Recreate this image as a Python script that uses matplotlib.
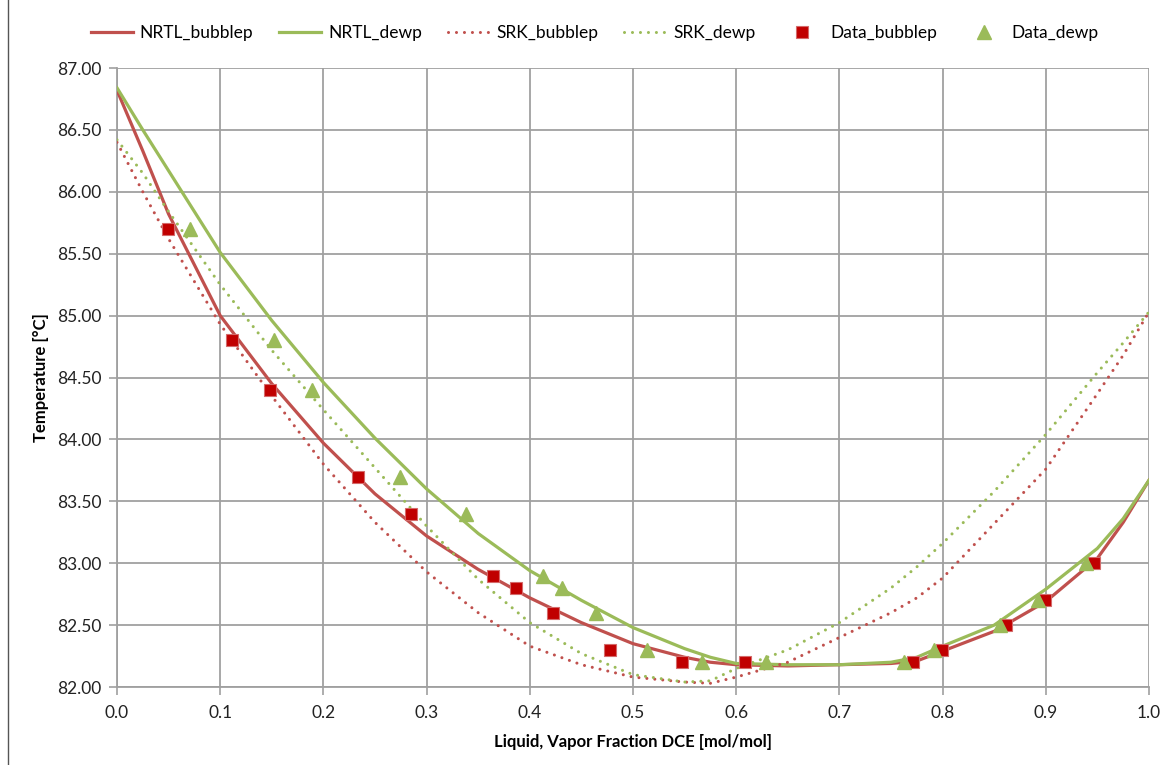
import matplotlib.pyplot as plt
from matplotlib.lines import Line2D

plt.rcParams['font.family'] = ['Lato', 'DejaVu Sans']

# model curves
x_curve = [0.0, 0.025, 0.05, 0.1, 0.15, 0.2, 0.25, 0.3, 0.35, 0.4, 0.45, 0.5,
           0.55, 0.575, 0.6, 0.65, 0.7, 0.75, 0.775, 0.8, 0.85, 0.9, 0.95, 0.975, 1.0]
nrtl_bubble = [86.82, 86.33, 85.82, 85.00, 84.45, 83.97, 83.56, 83.22, 82.95, 82.72, 82.52, 82.35,
               82.24, 82.20, 82.18, 82.17, 82.18, 82.19, 82.21, 82.29, 82.45, 82.69, 83.04, 83.33, 83.67]
nrtl_dew = [86.84, 86.50, 86.17, 85.51, 84.96, 84.46, 84.01, 83.60, 83.24, 82.94, 82.70, 82.48,
            82.31, 82.24, 82.19, 82.18, 82.18, 82.20, 82.24, 82.33, 82.50, 82.79, 83.12, 83.36, 83.67]
srk_bubble = [86.40, 86.00, 85.62, 84.93, 84.35, 83.80, 83.33, 82.93, 82.60, 82.33, 82.18, 82.08,
              82.04, 82.03, 82.08, 82.20, 82.40, 82.60, 82.72, 82.88, 83.32, 83.76, 84.37, 84.68, 85.03]
srk_dew = [86.42, 86.15, 85.84, 85.25, 84.72, 84.24, 83.77, 83.30, 82.87, 82.52, 82.27, 82.10,
           82.04, 82.05, 82.15, 82.30, 82.52, 82.80, 82.97, 83.16, 83.58, 84.04, 84.54, 84.78, 85.03]

# experimental points
x_data_bubble = [0.049, 0.111, 0.148, 0.234, 0.285, 0.364, 0.387, 0.422, 0.478, 0.547,
                 0.609, 0.771, 0.799, 0.861, 0.899, 0.947]
t_data_bubble = [85.70, 84.80, 84.40, 83.70, 83.40, 82.90, 82.80, 82.60, 82.30, 82.20,
                 82.20, 82.20, 82.30, 82.50, 82.70, 83.00]
x_data_dew = [0.071, 0.152, 0.189, 0.274, 0.338, 0.413, 0.431, 0.464, 0.514, 0.567,
              0.629, 0.763, 0.792, 0.856, 0.892, 0.939]
t_data_dew = [85.70, 84.80, 84.40, 83.70, 83.40, 82.90, 82.80, 82.60, 82.30, 82.20,
              82.20, 82.20, 82.30, 82.50, 82.70, 83.00]

red = '#C0504D'
green = '#9BBB59'
dots = (0, (0.01, 2.6))

fig = plt.figure(figsize=(11.76, 7.65), dpi=100)
ax = fig.add_axes([117 / 1176, 1 - 687 / 765, 1032 / 1176, 619 / 765])

ax.plot(x_curve, nrtl_bubble, color=red, lw=2.3, label='NRTL_bubblep', zorder=3)
ax.plot(x_curve, nrtl_dew, color=green, lw=2.3, label='NRTL_dewp', zorder=3)
ax.plot(x_curve, srk_bubble, color=red, lw=2.2, linestyle=dots,
        dash_capstyle='round', label='SRK_bubblep', zorder=3)
ax.plot(x_curve, srk_dew, color=green, lw=2.2, linestyle=dots,
        dash_capstyle='round', label='SRK_dewp', zorder=3)
ax.plot(x_data_bubble, t_data_bubble, 's', color='#C00000', markersize=8.5,
        markeredgecolor='#D46A6A', markeredgewidth=0.8, label='Data_bubblep', zorder=4)
ax.plot(x_data_dew, t_data_dew, '^', color=green, markersize=9.5,
        markeredgecolor=green, label='Data_dewp', zorder=4)

ax.set_xlim(0, 1.0)
ax.set_ylim(82, 87)
ax.set_xticks([i / 10 for i in range(11)])
ax.set_yticks([82 + 0.5 * i for i in range(11)])
ax.set_xticklabels(['%.1f' % (i / 10) for i in range(11)])
ax.set_yticklabels(['%.2f' % (82 + 0.5 * i) for i in range(11)])
ax.grid(True, color='#A0A0A0', lw=1.3)
ax.set_axisbelow(True)
for s in ['top', 'right']:
    ax.spines[s].set_visible(False)
for s in ['left', 'bottom']:
    ax.spines[s].set_color('#A0A0A0')
    ax.spines[s].set_linewidth(1.3)
ax.tick_params(axis='both', direction='out', length=6, color='#A0A0A0', width=1.2,
               labelsize=12.5, labelcolor='#222222')
ax.tick_params(axis='x', pad=7)
ax.tick_params(axis='y', pad=5)

ax.set_xlabel('Liquid, Vapor Fraction DCE [mol/mol]', fontsize=12, fontweight='bold', labelpad=9)
ax.set_ylabel('Temperature [°C]', fontsize=12, fontweight='bold', labelpad=6)

ax.legend(loc='lower center', bbox_to_anchor=(0.463, 1.018), ncol=6, frameon=False,
          fontsize=12.5, handlelength=2.4, columnspacing=1.5, handletextpad=0.4)

fig.add_artist(Line2D([8 / 1176, 8 / 1176], [0, 1], color='#555555', lw=1.0))

fig.savefig('out.png', dpi=100)
